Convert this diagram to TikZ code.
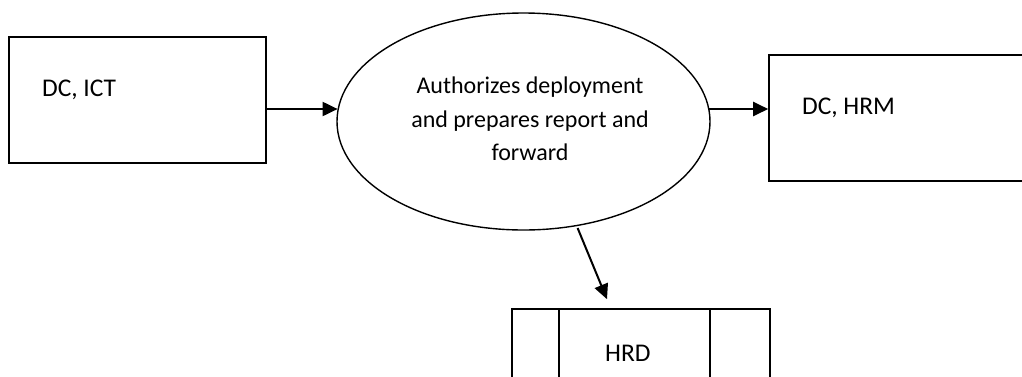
\documentclass[tikz,border=0pt]{standalone}
\usepackage{fontspec}
\setmainfont{Carlito}
\usetikzlibrary{arrows.meta,shapes.geometric}

\tikzset{
  box/.style={draw, line width=1.6pt, rectangle, inner sep=0pt},
  process/.style={draw, line width=1.4pt, ellipse, inner sep=0pt,
    minimum width=373pt, minimum height=217pt},
  boxtext/.style={inner sep=0pt, anchor=base west, font=\fontsize{25.5}{30}\selectfont},
  proctext/.style={inner sep=0pt, align=center, font=\fontsize{24}{33.5}\selectfont},
  arr/.style={line width=2pt, -{Triangle[length=15pt,width=14pt]}}
}

\begin{document}
\begin{tikzpicture}[x=1pt, y=-1pt]
  \useasboundingbox[fill=white] (0,0) rectangle (1022,376);
  \clip (0,0) rectangle (1022,376);

  % source and sink boxes
  \node[box, minimum width=257pt, minimum height=126pt] (ict) at (137.5,100) {};
  \node[boxtext] (ictlbl) at (42,96) {DC, ICT};

  \node[box, minimum width=291pt, minimum height=126pt] (hrm) at (914.5,118) {};
  \node[boxtext] (hrmlbl) at (802,114) {DC, HRM};

  % process ellipse
  \node[process] (proc) at (523.5,121.5) {};
  \node[proctext] (proclbl) at (530,119)
    {Authorizes deployment\\and prepares report and\\forward};

  % data store with two side bars
  \node[box, minimum width=258pt, minimum height=111pt] (hrd) at (641,364.5) {};
  \draw[line width=1.6pt] ([xshift=48pt]hrd.north west) -- ([xshift=48pt]hrd.south west);
  \draw[line width=1.6pt] ([xshift=-61pt]hrd.north east) -- ([xshift=-61pt]hrd.south east);
  \node[boxtext] (hrdlbl) at (605,361) {HRD};

  % flow end points
  \coordinate (ictout) at ([yshift=-9pt]ict.east);
  \coordinate (hrmin) at ([yshift=9pt]hrm.west);
  \coordinate (hrdin) at ([xshift=-34pt,yshift=9pt]hrd.north);

  % flows
  \draw[arr] (ictout) -- (ictout -| proc.176);
  \draw[arr] (hrmin -| proc.4) -- (hrmin);
  \draw[arr, shorten <=2pt] (proc.-63) -- (hrdin);
\end{tikzpicture}
\end{document}
